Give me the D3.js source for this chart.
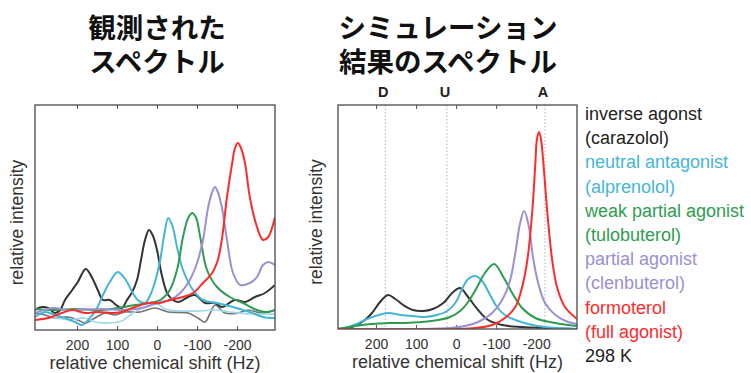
<!DOCTYPE html>
<html><head><meta charset="utf-8">
<script src="https://cdn.jsdelivr.net/npm/d3@7"></script>
<style>
body{margin:0;background:#fff;}
svg{display:block;}
</style></head>
<body>
<svg id="c" width="751" height="373"></svg>
<script>
// ---------- DATA (shift in Hz, relative intensity) ----------
const tickValues = [200, 100, 0, -100, -200];
const titleObserved = ["観測された", "スペクトル"];
const titleSimulated = ["シミュレーション", "結果のスペクトル"];
const xAxisTitle = "relative chemical shift (Hz)";
const yAxisTitle = "relative intensity";
const stateLabels = ["D", "U", "A"];
const stateShifts = [177, 23, -222];
const legendLines = [
  ["inverse agonst", "(carazolol)"],
  ["neutral antagonist", "(alprenolol)"],
  ["weak partial agonist", "(tulobuterol)"],
  ["partial agonist", "(clenbuterol)"],
  ["formoterol", "(full agonist)"]
];
const temperatureLabel = "298 K";
const seriesColors = ["#333333", "#45b5d6", "#2e9c50", "#9b8fcf", "#ff2b2b"];

// Observed spectra
const obsCarazolol = [[305,20],[288,23],[272,22],[255,17],[242,20],[230,30],[212,40],[198,48],[178,61],[162,52],[148,40],[135,30],[118,30],[102,25],[88,22],[75,30],[62,38],[50,50],[40,70],[30,90],[20,100],[10,94],[0,80],[-12,55],[-28,35],[-52,28],[-78,33],[-95,35],[-120,27],[-145,27],[-162,23],[-195,30],[-220,28],[-245,33],[-270,37],[-295,45]];
const obsCarazololB = [[305,17],[280,15],[255,12],[222,13],[198,10],[180,7],[155,12],[130,17],[105,15],[80,18],[42,18],[5,22],[-28,18],[-78,17],[-102,12],[-120,8],[-132,16],[-145,25],[-170,17],[-202,17],[-228,20],[-262,17],[-295,20]];
const obsAlprenolol = [[305,13],[280,18],[255,15],[230,12],[205,8],[188,5],[168,12],[150,22],[135,35],[118,48],[98,58],[78,50],[62,38],[48,30],[30,27],[18,34],[5,48],[-8,70],[-18,95],[-28,112],[-38,105],[-50,83],[-65,60],[-90,40],[-115,30],[-150,27],[-190,23],[-232,18],[-265,13],[-295,12]];
const obsAlprenololB = [[305,10],[255,12],[218,10],[180,12],[155,8],[118,7],[88,9],[60,17],[25,24],[0,26],[-20,21],[-58,19],[-108,19],[-145,20],[-182,18],[-232,16],[-295,16]];
const obsTulobuterol = [[305,21],[255,20],[205,21],[138,20],[98,22],[55,25],[18,27],[-8,30],[-32,40],[-50,60],[-65,93],[-78,112],[-88,117],[-98,112],[-108,93],[-125,60],[-150,43],[-182,33],[-215,27],[-250,20],[-275,18],[-295,20]];
const obsClenbuterol = [[305,17],[262,22],[222,20],[138,21],[88,20],[38,22],[-8,28],[-32,30],[-58,37],[-82,50],[-100,67],[-115,90],[-128,123],[-138,138],[-145,143],[-152,138],[-162,123],[-175,90],[-190,57],[-208,45],[-232,47],[-250,53],[-265,65],[-278,68],[-295,65]];
const obsFormoterol = [[305,10],[272,12],[238,17],[212,20],[180,17],[148,18],[112,17],[88,18],[55,23],[22,27],[-8,27],[-32,30],[-65,33],[-90,37],[-115,47],[-138,57],[-152,70],[-162,90],[-175,133],[-188,167],[-195,182],[-202,187],[-210,182],[-220,167],[-232,133],[-250,103],[-265,90],[-278,93],[-295,113]];

// Simulated spectra
const simCarazolol = [[295,0],[270,1],[248,4],[228,9],[210,16],[190,27],[170,34],[152,30],[132,24],[108,19],[82,18],[58,20],[32,26],[10,36],[-10,41],[-30,32],[-55,19],[-80,9],[-115,4],[-165,2],[-222,1],[-302,0]];
const simAlprenolol = [[295,0],[270,2],[248,5],[228,9],[202,13],[170,16],[140,14],[108,13],[78,12],[48,14],[22,18],[2,26],[-15,40],[-30,50],[-48,53],[-65,48],[-85,34],[-102,22],[-122,14],[-148,9],[-180,5],[-222,2],[-302,0]];
const simTulobuterol = [[295,0],[252,3],[212,5],[165,6],[128,6],[85,7],[45,9],[15,12],[-10,18],[-30,27],[-50,40],[-72,56],[-95,65],[-118,52],[-140,36],[-165,21],[-198,11],[-248,6],[-302,3]];
const simClenbuterol = [[295,0],[90,0],[15,1],[-22,3],[-55,7],[-90,16],[-115,29],[-135,49],[-148,76],[-160,106],[-170,118],[-182,102],[-192,72],[-205,46],[-222,26],[-248,14],[-280,7],[-302,5]];
const simFormoterol = [[295,0],[-10,0],[-48,1],[-90,4],[-122,11],[-148,22],[-165,42],[-178,69],[-190,116],[-198,166],[-202,190],[-207,197],[-212,190],[-218,166],[-228,116],[-240,69],[-252,42],[-272,22],[-302,10]];

// ---------- DRAW ----------
const svg = d3.select("#c");
const font = "'Liberation Sans', Arial, sans-serif";
const cjk = "'Noto Sans CJK JP', sans-serif";

function panel(cfg) {
  const x = d3.scaleLinear().domain(cfg.xDomain).range([cfg.left, cfg.right]);
  const y = d3.scaleLinear().domain([0, cfg.top0]).range([cfg.bottom, cfg.top]);
  const g = svg.append("g");
  const clipId = "clip" + cfg.id;
  svg.append("clipPath").attr("id", clipId).append("rect")
    .attr("x", cfg.left).attr("y", cfg.top).attr("width", cfg.right - cfg.left).attr("height", cfg.bottom - cfg.top);

  const axB = d3.axisBottom(x).tickValues(tickValues).tickSize(-4).tickPadding(10).tickFormat(d => String(d));
  const gb = g.append("g").attr("transform", `translate(0,${cfg.bottom})`).call(axB);
  const axT = d3.axisTop(x).tickValues(tickValues).tickSize(-4).tickFormat("");
  const gt = g.append("g").attr("transform", `translate(0,${cfg.top})`).call(axT);
  [gb, gt].forEach(a => {
    a.select(".domain").remove();
    a.selectAll(".tick line").attr("stroke", "#555");
  });
  gb.selectAll(".tick text").attr("font-family", font).attr("font-size", 14).attr("fill", "#333");

  if (cfg.guides) {
    g.selectAll(".guide").data(stateShifts).join("line")
      .attr("x1", d => x(d)).attr("x2", d => x(d))
      .attr("y1", cfg.top).attr("y2", cfg.bottom)
      .attr("stroke", "#999").attr("stroke-width", 0.8).attr("stroke-dasharray", "1.5,2");
    g.selectAll(".glab").data(stateLabels).join("text")
      .attr("x", (d, i) => x(stateShifts[i]) - 2).attr("y", cfg.top - 8)
      .attr("text-anchor", "middle").attr("font-family", font).attr("font-weight", "bold")
      .attr("font-size", 14.5).attr("fill", "#222").text(d => d);
  }

  const line = d3.line().x(d => x(d[0])).y(d => y(d[1])).curve(d3.curveCatmullRom.alpha(0.5));
  const lg = g.append("g").attr("clip-path", `url(#${clipId})`);
  cfg.series.forEach(s => {
    lg.append("path").datum(s.data).attr("d", line).attr("fill", "none")
      .attr("stroke", s.color).attr("stroke-width", s.width || 2)
      .attr("stroke-opacity", s.opacity || 1).attr("stroke-linejoin", "round");
  });

  g.append("rect").attr("x", cfg.left).attr("y", cfg.top)
    .attr("width", cfg.right - cfg.left).attr("height", cfg.bottom - cfg.top)
    .attr("fill", "none").attr("stroke", "#555").attr("stroke-width", 1.4);

  g.append("text").attr("x", (cfg.left + cfg.right) / 2).attr("y", cfg.bottom + 39)
    .attr("text-anchor", "middle").attr("font-family", font).attr("font-size", 18)
    .attr("fill", "#333").text(xAxisTitle);
  g.append("text").attr("transform", `translate(${cfg.yTitleX},${(cfg.top + cfg.bottom) / 2 + 5}) rotate(-90)`)
    .attr("text-anchor", "middle").attr("font-family", font).attr("font-size", 17.5)
    .attr("fill", "#333").text(yAxisTitle);

  cfg.title.forEach((t, i) => {
    g.append("text").attr("x", cfg.titleX).attr("y", 38 + i * 34)
      .attr("text-anchor", "middle").attr("font-family", cjk).attr("font-weight", "bold")
      .attr("font-size", 27.5).attr("fill", "#111").text(t);
  });
}

panel({
  id: "L", xDomain: [305, -295], left: 35, right: 275, top: 105, bottom: 330, top0: 225,
  title: titleObserved, titleX: 157, guides: false, yTitleX: 23,
  series: [
    {data: obsCarazololB, color: "#666", width: 1.7, opacity: 0.9},
    {data: obsAlprenololB, color: "#9fd8ea", width: 1.7},
    {data: obsCarazolol, color: seriesColors[0]},
    {data: obsAlprenolol, color: seriesColors[1]},
    {data: obsTulobuterol, color: seriesColors[2]},
    {data: obsClenbuterol, color: seriesColors[3]},
    {data: obsFormoterol, color: seriesColors[4]}
  ]
});

panel({
  id: "R", xDomain: [295, -302], left: 338, right: 577, top: 105, bottom: 329, top0: 224,
  title: titleSimulated, titleX: 448, guides: true, yTitleX: 322,
  series: [
    {data: simCarazolol, color: seriesColors[0]},
    {data: simAlprenolol, color: seriesColors[1]},
    {data: simTulobuterol, color: seriesColors[2]},
    {data: simClenbuterol, color: seriesColors[3]},
    {data: simFormoterol, color: seriesColors[4]}
  ]
});

const lg = svg.append("g");
const rows = [];
legendLines.forEach((pair, i) => pair.forEach(t => rows.push({t, c: i === 0 ? "#222" : seriesColors[i]})));
rows.push({t: temperatureLabel, c: "#222"});
lg.selectAll("text").data(rows).join("text")
  .attr("x", 585).attr("y", (d, i) => 120 + i * 24.2)
  .attr("font-family", font).attr("font-size", 18).attr("fill", d => d.c).text(d => d.t);
</script>
</body></html>
